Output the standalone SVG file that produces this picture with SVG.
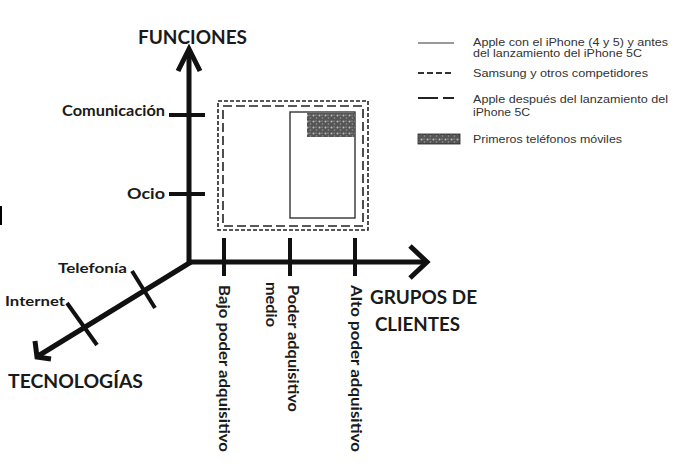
<svg xmlns="http://www.w3.org/2000/svg" width="696" height="466" viewBox="0 0 696 466">
<style>
.lbl{font-family:Lato,"Liberation Sans",sans-serif;font-weight:700;fill:#1a1a1a}
.big{font-size:19px}
.mid{font-size:15px}
.leg{font-family:"Liberation Sans",Arial,sans-serif;font-size:11px;fill:#333}
.axis{stroke:#111;stroke-width:5;fill:none;stroke-linecap:butt}
.tick{stroke:#111;stroke-width:4;fill:none}
</style>
<defs>
<pattern id="grain" width="6" height="6" patternUnits="userSpaceOnUse">
<rect width="6" height="6" fill="#555"/>
<circle cx="1.5" cy="1.5" r="1" fill="#bbb"/>
<circle cx="4.5" cy="4" r="0.8" fill="#999"/>
<circle cx="4" cy="1" r="0.5" fill="#ddd"/>
</pattern>
</defs>
<rect width="696" height="466" fill="#fff"/>
<rect x="0" y="206" width="2" height="19" fill="#000"/>

<g id="connectors">
<line class="axis" x1="189" y1="262" x2="189" y2="50"/>
<polyline class="axis" points="178,71 189,49 200,71"/>
<line class="axis" x1="187" y1="262" x2="426" y2="262"/>
<polyline class="axis" points="410,246 427,262 410,278"/>
<line class="axis" x1="191" y1="262" x2="38" y2="356"/>
<polyline class="axis" points="35,341 37,357 51,359"/>
</g>

<g id="ticks">
<line class="tick" x1="169" y1="115" x2="205" y2="115"/>
<line class="tick" x1="169" y1="194" x2="205" y2="194"/>
<line class="tick" x1="224" y1="238" x2="224" y2="276"/>
<line class="tick" x1="290" y1="238" x2="290" y2="276"/>
<line class="tick" x1="355" y1="238" x2="355" y2="276"/>
<line class="tick" x1="132" y1="271" x2="155" y2="308"/>
<line class="tick" x1="67" y1="303" x2="97" y2="345"/>
</g>

<g id="node-funciones"><text class="lbl big" x="138" y="44" textLength="109" lengthAdjust="spacingAndGlyphs">FUNCIONES</text></g>
<g id="node-comunicacion"><text class="lbl mid" x="62" y="116" textLength="103" lengthAdjust="spacingAndGlyphs">Comunicación</text></g>
<g id="node-ocio"><text class="lbl mid" x="127" y="199" textLength="38" lengthAdjust="spacingAndGlyphs">Ocio</text></g>
<g id="node-telefonia"><text class="lbl" font-size="14" x="58" y="273" textLength="69" lengthAdjust="spacingAndGlyphs">Telefonía</text></g>
<g id="node-internet"><text class="lbl" font-size="14" x="5" y="306" textLength="60" lengthAdjust="spacingAndGlyphs">Internet</text></g>
<g id="node-tecnologias"><text class="lbl big" x="8" y="388" textLength="135" lengthAdjust="spacingAndGlyphs">TECNOLOGÍAS</text></g>
<g id="node-grupos"><text class="lbl big" x="370" y="304" textLength="107" lengthAdjust="spacingAndGlyphs">GRUPOS DE</text><text class="lbl big" x="375" y="331" textLength="85" lengthAdjust="spacingAndGlyphs">CLIENTES</text></g>

<g id="node-bajo"><text class="lbl mid" transform="translate(219,285) rotate(90)" textLength="167" lengthAdjust="spacingAndGlyphs">Bajo poder adquisitivo</text></g>
<g id="node-medio"><text class="lbl mid" transform="translate(288,285) rotate(90)" textLength="127" lengthAdjust="spacingAndGlyphs">Poder adquisitivo</text><text class="lbl mid" transform="translate(266,282) rotate(90)" textLength="45" lengthAdjust="spacingAndGlyphs">medio</text></g>
<g id="node-alto"><text class="lbl mid" transform="translate(351,285) rotate(90)" textLength="167" lengthAdjust="spacingAndGlyphs">Alto poder adquisitivo</text></g>

<g id="node-samsung"><rect x="218" y="101" width="150" height="129" fill="none" stroke="#222" stroke-width="1.6" stroke-dasharray="4,2"/></g>
<g id="node-apple-after"><rect x="223" y="106" width="140" height="120" fill="none" stroke="#222" stroke-width="1.6" stroke-dasharray="9,4"/></g>
<g id="node-apple-before"><rect x="290" y="112" width="65" height="106" fill="none" stroke="#333" stroke-width="1.4"/></g>
<g id="node-primeros"><rect x="307" y="113" width="48" height="24" fill="url(#grain)"/></g>

<g id="legend">
<line x1="418" y1="43" x2="454" y2="43" stroke="#777" stroke-width="1.5"/>
<text class="leg" x="473" y="46" textLength="195" lengthAdjust="spacingAndGlyphs">Apple con el iPhone (4 y 5) y antes</text>
<text class="leg" x="473" y="57" textLength="169" lengthAdjust="spacingAndGlyphs">del lanzamiento del iPhone 5C</text>
<line x1="418" y1="73" x2="454" y2="73" stroke="#333" stroke-width="1.8" stroke-dasharray="6,3"/>
<text class="leg" x="473" y="77" textLength="175" lengthAdjust="spacingAndGlyphs">Samsung y otros competidores</text>
<line x1="418" y1="98" x2="454" y2="98" stroke="#222" stroke-width="1.8" stroke-dasharray="20,5"/>
<text class="leg" x="473" y="103" textLength="195" lengthAdjust="spacingAndGlyphs">Apple después del lanzamiento del</text>
<text class="leg" x="473" y="116" textLength="57" lengthAdjust="spacingAndGlyphs">iPhone 5C</text>
<rect x="418" y="134" width="42" height="10" fill="url(#grain)" stroke="#222" stroke-width="0.8"/>
<text class="leg" x="473" y="143" textLength="149" lengthAdjust="spacingAndGlyphs">Primeros teléfonos móviles</text>
</g>
</svg>
